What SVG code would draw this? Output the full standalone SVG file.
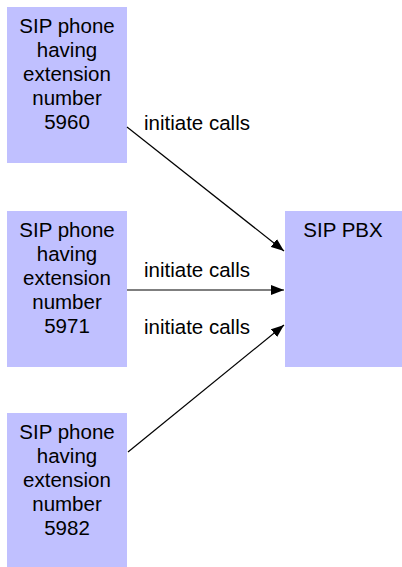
<svg xmlns="http://www.w3.org/2000/svg" width="402" height="567" viewBox="0 0 402 567">
<style>
.box{fill:#C0C0FF;stroke:none}
.t{font-family:"Liberation Sans",Arial,sans-serif;font-size:20.5px;fill:#000;text-anchor:middle}
.l{font-family:"Liberation Sans",Arial,sans-serif;font-size:20.5px;fill:#000}
.c{stroke:#000;stroke-width:1.2;fill:none;marker-end:url(#ah)}
</style>
<defs>
<marker id="ah" markerWidth="13" markerHeight="10" refX="13" refY="5" orient="auto" markerUnits="userSpaceOnUse">
<path d="M0,0 L13,5 L0,10 Z" fill="#000"/>
</marker>
</defs>
<rect width="402" height="567" fill="#fff"/>
<g id="phone5960">
<rect class="box" x="7" y="7" width="120" height="156"/>
<text class="t" x="67" y="33">SIP phone</text>
<text class="t" x="67" y="57">having</text>
<text class="t" x="67" y="81">extension</text>
<text class="t" x="67" y="105">number</text>
<text class="t" x="67" y="129">5960</text>
</g>
<g id="phone5971">
<rect class="box" x="7" y="211" width="120" height="156"/>
<text class="t" x="67" y="237">SIP phone</text>
<text class="t" x="67" y="261">having</text>
<text class="t" x="67" y="285">extension</text>
<text class="t" x="67" y="309">number</text>
<text class="t" x="67" y="333">5971</text>
</g>
<g id="phone5982">
<rect class="box" x="7" y="413" width="120" height="156"/>
<text class="t" x="67" y="439">SIP phone</text>
<text class="t" x="67" y="463">having</text>
<text class="t" x="67" y="487">extension</text>
<text class="t" x="67" y="511">number</text>
<text class="t" x="67" y="535">5982</text>
</g>
<g id="pbx">
<rect class="box" x="285" y="211" width="117" height="156"/>
<text class="t" x="343" y="237">SIP PBX</text>
</g>
<g id="connectors">
<line class="c" x1="127" y1="127" x2="284" y2="251"/>
<line class="c" x1="127" y1="290" x2="284" y2="290"/>
<line class="c" x1="128" y1="452" x2="284" y2="325"/>
<text class="l" x="144" y="130">initiate calls</text>
<text class="l" x="144" y="277">initiate calls</text>
<text class="l" x="144" y="334">initiate calls</text>
</g>
</svg>
